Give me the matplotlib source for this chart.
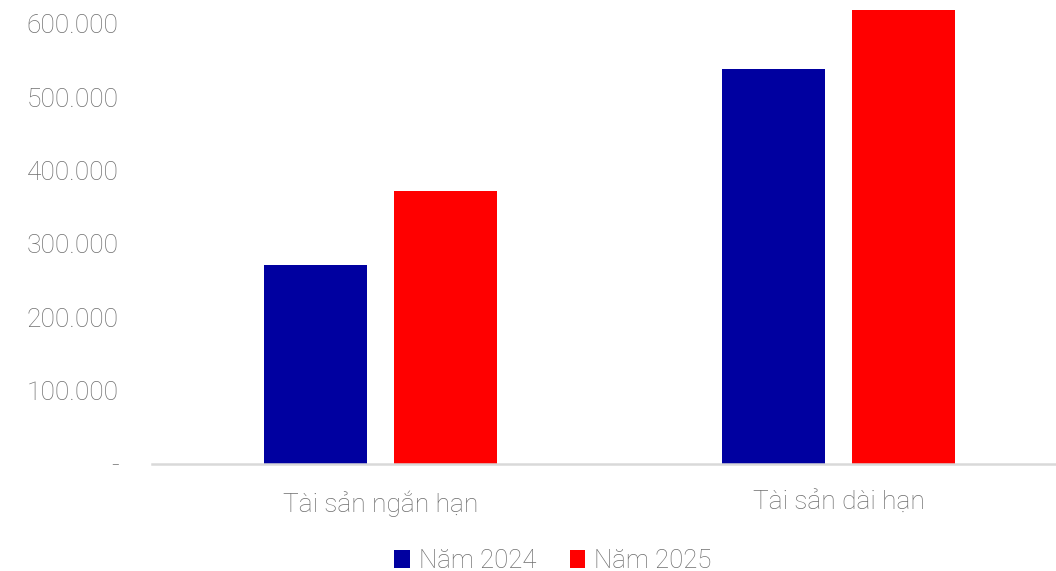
import matplotlib
matplotlib.use("Agg")
import matplotlib.pyplot as plt
import numpy as np
from matplotlib.ticker import FuncFormatter

plt.rcParams['font.family'] = ['Roboto', 'DejaVu Sans']

categories = ["Tài sản ngắn hạn", "Tài sản dài hạn"]
years = ["Năm 2024", "Năm 2025"]
nam_2024 = [271500, 539000]
nam_2025 = [372000, 619000]
colors = ["#0000A0", "#FF0000"]
grey = "#6f6f6f"

fig = plt.figure(figsize=(10.56, 5.71), dpi=100)
ax = fig.add_axes([152/1056, 107/571, 916/1056, 464/571])

x = np.arange(len(categories))
w = 0.225
ax.bar(x - 0.143, nam_2024, w, color=colors[0], label=years[0])
ax.bar(x + 0.140, nam_2025, w, color=colors[1], label=years[1])

ax.set_xlim(-0.5, 1.5)
ax.set_ylim(0, 632700)
ax.set_yticks(np.arange(0, 600001, 100000))

def fmt(v, pos):
    if v == 0:
        return "-"
    return f"{int(v):,}".replace(",", ".")

ax.yaxis.set_major_formatter(FuncFormatter(fmt))
ax.set_xticks(x)
ax.set_xticklabels(categories)

for s in ["top", "right", "left"]:
    ax.spines[s].set_visible(False)
ax.spines["bottom"].set_color("#d9d9d9")
ax.spines["bottom"].set_linewidth(1.8)
ax.tick_params(axis="both", length=0, colors=grey, labelsize=19)
ax.tick_params(axis="y", pad=24)
ax.tick_params(axis="x", pad=19)
for lbl in ax.get_xticklabels() + ax.get_yticklabels():
    lbl.set_fontweight("light")

fig.legend(loc="center", bbox_to_anchor=(553/1056, 1 - 561/571), ncol=2, frameon=False,
           handlelength=0.6, handleheight=0.75, handletextpad=0.35, columnspacing=1.3,
           prop={"size": 18.5, "weight": "light"}, labelcolor=grey)

fig.savefig("out.png", dpi=100)
